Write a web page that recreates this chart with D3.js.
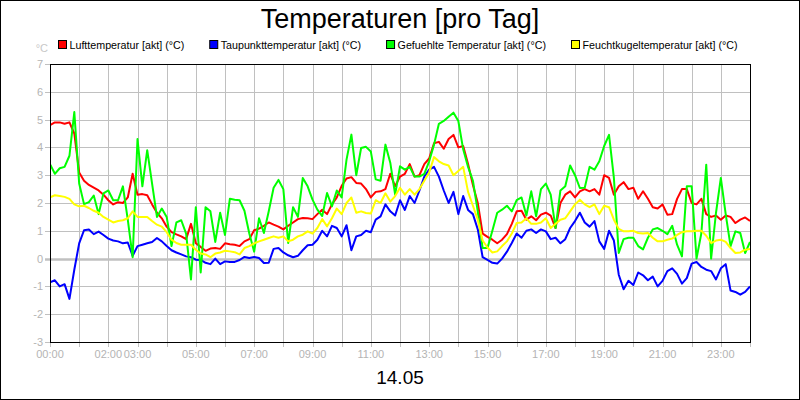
<!DOCTYPE html>
<html>
<head>
<meta charset="utf-8">
<script src="https://cdn.jsdelivr.net/npm/d3@7"></script>
<style>
  html, body { margin: 0; padding: 0; background: #fff; }
  svg { display: block; font-family: "Liberation Sans", Arial, sans-serif; }
</style>
</head>
<body>
<svg id="chart" width="800" height="400"></svg>
<script>
// Messwerte alle 10 Minuten ab 00:00
const startHour = 0;
const stepMinutes = 10;

const seriesNames = [
  "Lufttemperatur [akt] (°C)",
  "Taupunkttemperatur [akt] (°C)",
  "Gefuehlte Temperatur [akt] (°C)",
  "Feuchtkugeltemperatur [akt] (°C)"
];
const seriesColors = ["#ff0000", "#0000ff", "#00ff00", "#ffff00"];

const luft = [
  4.8,4.9,4.9,4.85,4.9,4.5,3.1,2.8,2.65,2.55,2.45,2.3,2.1,1.95,2.03,2.0,2.2,3.05,2.3,2.32,
  2.28,1.95,1.65,1.45,1.15,0.95,0.87,0.8,0.7,1.25,0.55,0.42,0.28,0.36,0.38,0.35,0.55,
  0.52,0.5,0.45,0.62,0.7,1.02,1.08,1.18,1.3,1.22,1.15,1.05,1.18,1.3,1.42,1.46,1.45,1.42,1.6,
  1.76,1.6,1.95,2.2,2.62,2.88,2.93,2.72,2.7,2.5,2.2,2.4,2.42,2.5,3.05,2.6,2.95,
  3.05,3.4,2.95,3.0,3.4,3.6,4.15,4.2,3.95,4.3,4.45,4.0,4.05,3.4,2.65,2.0,0.9,0.78,0.68,0.55,
  0.68,0.88,1.25,1.7,1.72,1.4,1.52,1.38,1.58,1.65,1.55,1.1,2.0,2.3,2.42,2.2,
  2.42,2.5,2.42,2.5,2.3,3.0,2.9,2.3,2.6,2.75,2.5,2.55,2.15,2.42,2.15,1.85,1.8,1.95,1.58,1.6,
  2.15,2.5,2.5,2.0,1.95,2.15,1.6,1.5,1.55,1.4,1.55,1.5,1.28,1.4,1.48,1.35
];
const taupunkt = [
  -0.85,-0.78,-1.0,-0.92,-1.45,-0.4,0.55,1.02,1.05,0.88,0.97,0.85,0.72,0.65,0.62,0.55,0.58,0.1,0.45,0.5,
  0.55,0.6,0.74,0.62,0.45,0.3,0.22,0.15,0.08,0.05,-0.04,-0.05,-0.15,-0.2,0.0,-0.2,-0.1,
  -0.12,-0.12,-0.05,0.06,0.02,0.06,0.02,-0.16,-0.15,0.35,0.38,0.22,0.12,0.05,0.1,0.3,0.48,0.5,0.68,1.0,
  0.8,1.18,1.1,0.8,1.2,0.3,0.8,0.85,1.0,0.95,1.4,1.52,1.95,1.7,1.55,2.1,
  1.75,2.25,2.0,2.45,2.95,3.2,3.3,2.95,2.45,2.0,2.4,1.6,2.25,1.75,1.6,1.05,0.05,-0.05,-0.15,-0.18,
  0.0,0.25,0.56,0.9,0.75,1.0,1.05,0.92,1.05,0.98,0.7,0.75,0.55,0.7,1.1,1.35,
  1.65,1.3,1.15,1.35,0.62,0.35,1.0,0.65,-0.58,-1.1,-0.8,-0.95,-0.5,-0.6,-0.78,-0.65,-1.0,-0.8,-0.45,-0.35,
  -0.55,-0.9,-0.7,-0.18,-0.12,-0.3,-0.4,-0.45,-0.75,-0.35,-0.2,-1.15,-1.2,-1.3,-1.2,-1.0
];
const gefuehlt = [
  3.4,3.05,3.25,3.3,3.7,5.27,2.7,1.96,2.03,2.27,1.6,2.35,2.45,2.1,2.1,2.6,1.4,0.05,4.3,2.6,
  3.9,2.7,1.5,1.8,1.5,0.45,1.3,1.38,0.9,-0.75,1.85,-0.5,1.85,1.7,0.6,1.65,0.85,
  2.15,2.12,2.1,1.72,0.9,0.25,1.45,0.92,1.7,2.55,2.83,2.5,0.56,1.85,1.5,2.9,2.6,2.12,1.76,1.53,
  2.36,1.88,2.45,2.2,3.56,4.46,3.0,3.98,4.02,3.85,2.85,2.8,4.1,3.45,2.3,3.32,
  3.2,3.3,2.95,2.95,3.05,3.5,4.1,4.85,4.95,5.1,5.25,4.95,3.93,3.3,2.8,1.7,0.38,0.38,1.0,1.65,
  1.76,1.9,1.7,2.1,2.2,1.55,2.42,1.52,2.5,2.7,2.3,1.1,2.45,2.6,3.35,3.0,
  2.54,2.55,3.3,3.2,3.5,4.05,4.45,2.9,0.2,0.7,0.75,0.75,0.45,0.33,0.75,1.05,1.1,1.0,0.88,1.18,
  0.5,0.08,2.6,2.6,0.0,0.92,3.38,0.0,1.64,2.9,1.6,0.45,0.98,0.92,0.2,0.6
];
const feuchtkugel = [
  2.2,2.28,2.25,2.22,2.15,1.95,1.88,1.9,1.82,1.72,1.65,1.5,1.4,1.3,1.35,1.38,1.45,1.7,1.5,1.5,
  1.5,1.35,1.22,1.15,0.95,0.68,0.56,0.5,0.5,0.5,0.32,0.18,0.15,0.05,0.18,0.22,0.28,
  0.26,0.23,0.15,0.38,0.45,0.55,0.62,0.68,0.74,0.8,0.75,0.8,0.62,0.68,0.8,0.86,0.98,0.9,1.1,1.42,
  1.16,1.45,1.8,1.6,2.0,2.2,1.65,1.7,1.64,1.62,2.1,2.0,2.35,2.05,2.25,2.55,
  2.3,2.5,2.3,2.5,2.8,3.1,3.65,3.5,3.4,3.35,3.0,3.15,3.3,2.4,1.9,1.4,0.65,0.4,0.22,0.26,
  0.45,0.62,0.9,1.28,1.3,1.45,1.25,1.25,1.3,1.45,1.1,1.25,1.4,1.45,1.7,1.95,
  2.12,1.95,1.85,1.95,1.6,1.9,1.85,1.4,1.07,0.98,0.98,1.0,0.92,0.9,0.92,0.75,0.62,0.62,0.68,0.72,
  0.85,0.95,0.98,0.98,1.0,1.0,0.82,0.56,0.65,0.68,0.6,0.38,0.2,0.22,0.32,0.35
];

const yTicks = [-3, -2, -1, 0, 1, 2, 3, 4, 5, 6, 7];
const xLabelHours = [0, 2, 3, 5, 7, 9, 11, 13, 15, 17, 19, 21, 23];
const title = "Temperaturen [pro Tag]";
const dateLabel = "14.05";
const unitLabel = "°C";

const svg = d3.select("#chart");
const width = 800, height = 400;
const margin = { top: 64, right: 50, bottom: 58, left: 50 };
const innerW = width - margin.left - margin.right;
const innerH = height - margin.top - margin.bottom;
const grey = "#b4b4b4";

svg.append("rect")
  .attr("x", 0.5).attr("y", 0.5)
  .attr("width", width - 1).attr("height", height - 1)
  .attr("fill", "#fff").attr("stroke", "#000");

const x = d3.scaleLinear().domain([0, 24]).range([0, innerW]);
const y = d3.scaleLinear().domain([-3, 7]).range([innerH, 0]);

const g = svg.append("g").attr("transform", `translate(${margin.left},${margin.top})`);

// Gitter
g.append("g")
  .selectAll("line")
  .data(d3.range(0, 25))
  .join("line")
  .attr("x1", d => Math.round(x(d)) + 0.5).attr("x2", d => Math.round(x(d)) + 0.5)
  .attr("y1", 0).attr("y2", innerH + 5)
  .attr("stroke", "#c0c0c0");

g.append("g")
  .selectAll("line")
  .data(yTicks)
  .join("line")
  .attr("x1", -5).attr("x2", innerW)
  .attr("y1", d => Math.round(y(d)) + 0.5).attr("y2", d => Math.round(y(d)) + 0.5)
  .attr("stroke", "#c0c0c0")
  .attr("stroke-width", d => d === 0 ? 2.5 : 1);

// Achsenbeschriftung
g.append("g")
  .selectAll("text")
  .data(yTicks)
  .join("text")
  .attr("x", -7)
  .attr("y", d => y(d) + 4)
  .attr("text-anchor", "end")
  .attr("font-size", "11px")
  .attr("fill", grey)
  .text(d => d);

g.append("g")
  .selectAll("text")
  .data(xLabelHours)
  .join("text")
  .attr("x", d => x(d))
  .attr("y", innerH + 16)
  .attr("text-anchor", "middle")
  .attr("font-size", "11px")
  .attr("fill", grey)
  .text(d => d3.format("02")(d) + ":00");

svg.append("text")
  .attr("x", 48).attr("y", 52)
  .attr("text-anchor", "end")
  .attr("font-size", "11px")
  .attr("fill", "#c8c8c8")
  .text(unitLabel);

// Linien
g.append("clipPath").attr("id", "clip")
  .append("rect").attr("width", innerW).attr("height", innerH);

const allSeries = [luft, taupunkt, gefuehlt, feuchtkugel];
const line = d3.line()
  .x((d, i) => x(startHour + i * stepMinutes / 60))
  .y(d => y(d));

g.append("g")
  .attr("clip-path", "url(#clip)")
  .selectAll("path")
  .data(allSeries)
  .join("path")
  .attr("d", line)
  .attr("fill", "none")
  .attr("stroke", (d, i) => seriesColors[i])
  .attr("stroke-width", 2)
  .attr("stroke-linejoin", "round");

// Rahmen
g.append("rect")
  .attr("x", 0.5).attr("y", 0.5)
  .attr("width", innerW).attr("height", innerH)
  .attr("fill", "none").attr("stroke", "#000");

// Titel
svg.append("text")
  .attr("x", width / 2).attr("y", 28)
  .attr("text-anchor", "middle")
  .attr("font-size", "27px")
  .attr("fill", "#000")
  .text(title);

svg.append("text")
  .attr("x", width / 2).attr("y", 384)
  .attr("text-anchor", "middle")
  .attr("font-size", "19px")
  .attr("fill", "#000")
  .text(dateLabel);

// Legende
const legend = svg.append("g");
let lx = 58;
seriesNames.forEach((name, i) => {
  legend.append("rect")
    .attr("x", lx + 0.5).attr("y", 40.5)
    .attr("width", 8).attr("height", 8)
    .attr("fill", seriesColors[i]).attr("stroke", "#000");
  const t = legend.append("text")
    .attr("x", lx + 11.5).attr("y", 48.5)
    .attr("font-size", "10.7px")
    .attr("fill", "#000")
    .text(name);
  lx += 11.5 + t.node().getComputedTextLength() + 25;
});
</script>
</body>
</html>
